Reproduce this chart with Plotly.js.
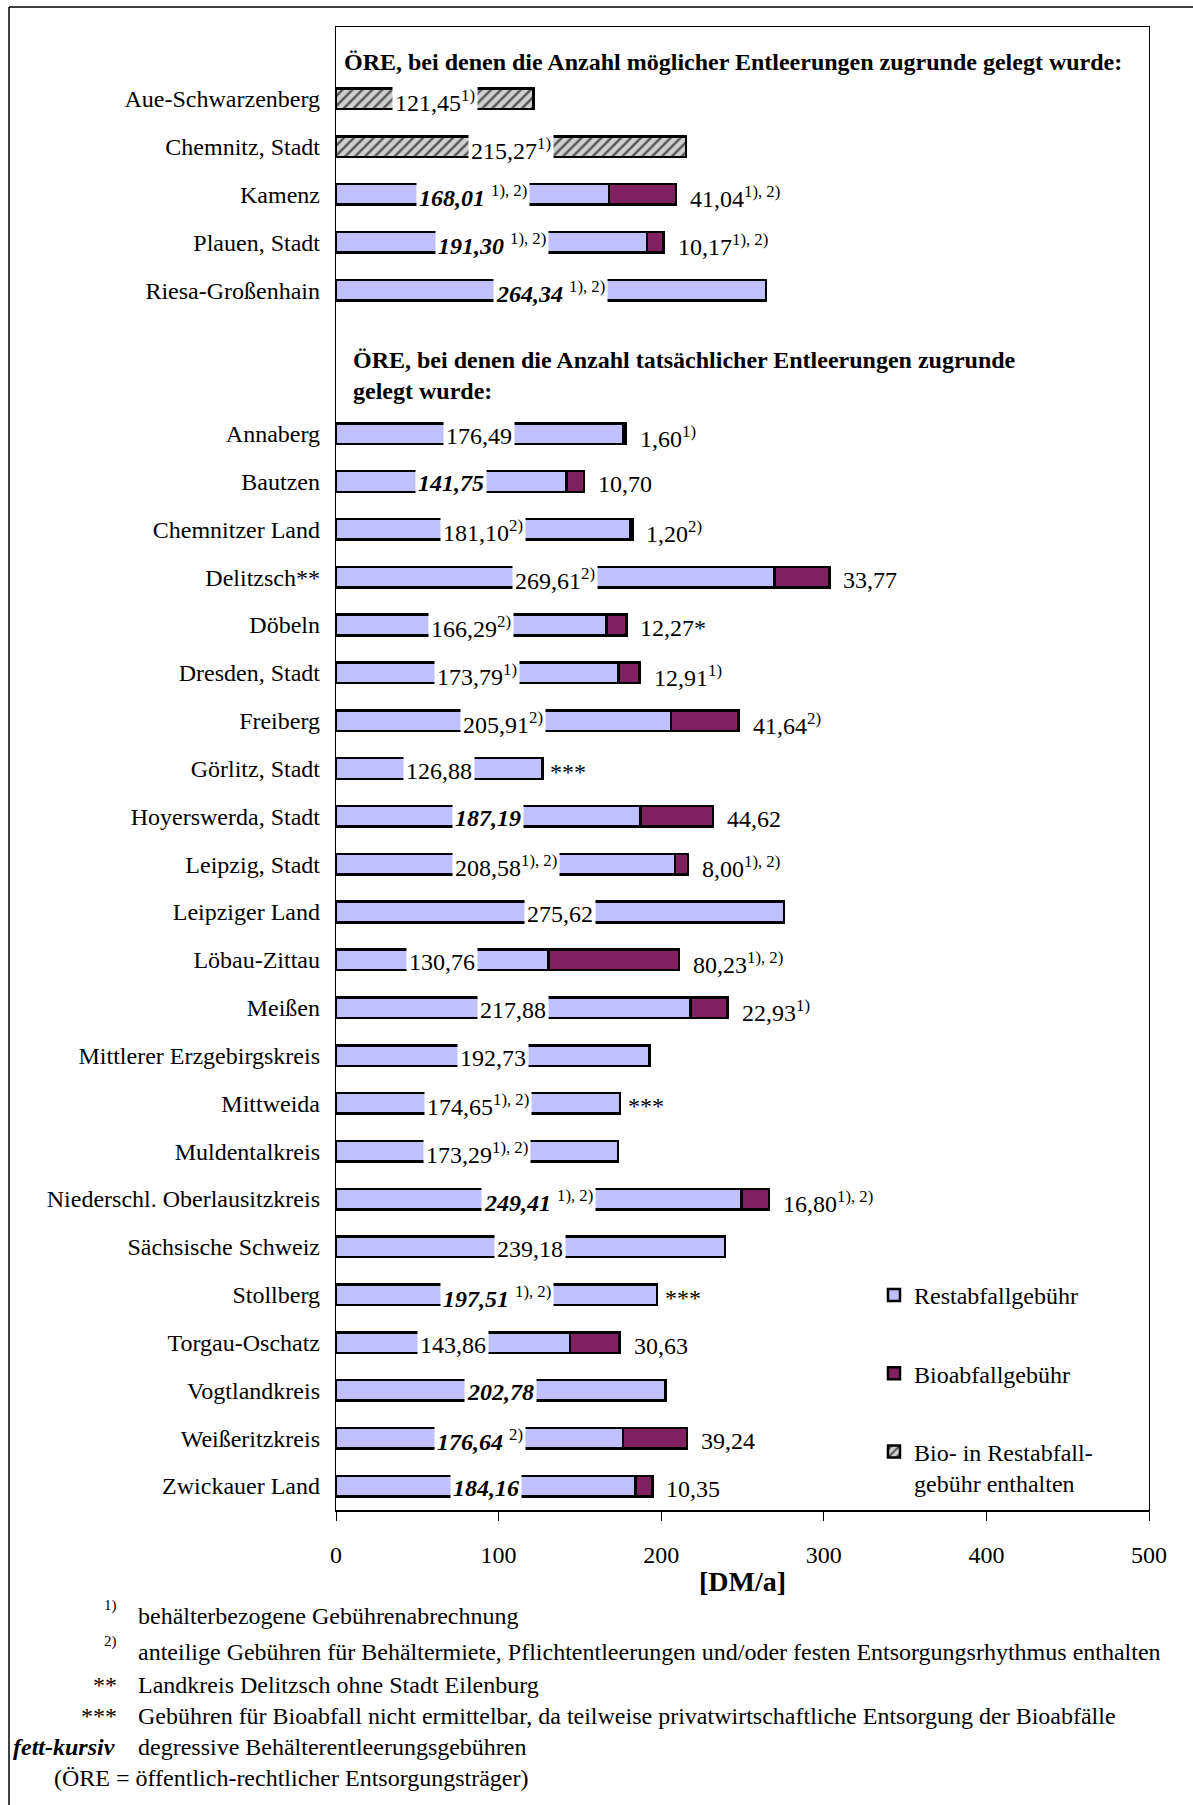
<!DOCTYPE html>
<html>
<head>
<meta charset="utf-8">
<script src="https://cdn.plot.ly/plotly-3.0.1.min.js"></script>
<style>
  html, body { margin: 0; padding: 0; background: #fff; }
  #chart { width: 1193px; height: 1805px; }
</style>
</head>
<body>
<div id="chart"></div>
<script>
// ÖRE where the number of possible emptyings was used
const groupPossible = ['Aue-Schwarzenberg', 'Chemnitz, Stadt', 'Kamenz', 'Plauen, Stadt', 'Riesa-Großenhain'];
// ÖRE where the number of actual emptyings was used
const groupActual = ['Annaberg', 'Bautzen', 'Chemnitzer Land', 'Delitzsch**', 'Döbeln', 'Dresden, Stadt',
  'Freiberg', 'Görlitz, Stadt', 'Hoyerswerda, Stadt', 'Leipzig, Stadt', 'Leipziger Land', 'Löbau-Zittau',
  'Meißen', 'Mittlerer Erzgebirgskreis', 'Mittweida', 'Muldentalkreis', 'Niederschl. Oberlausitzkreis',
  'Sächsische Schweiz', 'Stollberg', 'Torgau-Oschatz', 'Vogtlandkreis', 'Weißeritzkreis', 'Zwickauer Land'];

const categories = groupPossible.concat(groupActual);

// Restabfallgebühr [DM/a]
const restFee = [121.45, 215.27, 168.01, 191.30, 264.34,
  176.49, 141.75, 181.10, 269.61, 166.29, 173.79, 205.91, 126.88, 187.19, 208.58, 275.62, 130.76,
  217.88, 192.73, 174.65, 173.29, 249.41, 239.18, 197.51, 143.86, 202.78, 176.64, 184.16];
// Bioabfallgebühr [DM/a] (null = none / not determinable)
const bioFee = [null, null, 41.04, 10.17, null,
  1.60, 10.70, 1.20, 33.77, 12.27, 12.91, 41.64, null, 44.62, 8.00, null, 80.23,
  22.93, null, null, null, 16.80, null, null, 30.63, null, 39.24, 10.35];
// bio fee already contained in the residual waste fee
const bioIncluded = [true, true, false, false, false,
  false, false, false, false, false, false, false, false, false, false, false, false,
  false, false, false, false, false, false, false, false, false, false, false];
// degressive container emptying fees (shown bold italic)
const degressive = [false, false, true, true, true,
  false, true, false, false, false, false, false, false, true, false, false, false,
  false, false, false, false, true, false, true, false, true, true, true];
// footnote references
const restNote = ['1)', '1)', '1), 2)', '1), 2)', '1), 2)',
  '', '', '2)', '2)', '2)', '1)', '2)', '', '', '1), 2)', '', '',
  '', '', '1), 2)', '1), 2)', '1), 2)', '', '1), 2)', '', '', '2)', ''];
const bioNote = ['', '', '1), 2)', '1), 2)', '',
  '1)', '', '2)', '', '', '1)', '2)', '', '', '1), 2)', '', '1), 2)',
  '1)', '', '', '', '1), 2)', '', '', '', '', '', ''];
const bioMark = ['', '', '', '', '',
  '', '', '', '', '*', '', '', '***', '', '', '', '',
  '', '', '***', '', '', '', '***', '', '', '', ''];

const legendNames = ['Restabfallgebühr', 'Bioabfallgebühr', 'Bio- in Restabfall-<br>gebühr enthalten'];
const sectionTitles = [
  'ÖRE, bei denen die Anzahl möglicher Entleerungen zugrunde gelegt wurde:',
  'ÖRE, bei denen die Anzahl tatsächlicher Entleerungen zugrunde<br>gelegt wurde:'
];
const tickValues = [0, 100, 200, 300, 400, 500];
const axisTitle = '[DM/a]';
const footnotes = [
  ['1)', 'behälterbezogene Gebührenabrechnung'],
  ['2)', 'anteilige Gebühren für Behältermiete, Pflichtentleerungen und/oder festen Entsorgungsrhythmus enthalten'],
  ['**', 'Landkreis Delitzsch ohne Stadt Eilenburg'],
  ['***', 'Gebühren für Bioabfall nicht ermittelbar, da teilweise privatwirtschaftliche Entsorgung der Bioabfälle'],
  ['fett-kursiv', 'degressive Behälterentleerungsgebühren']
];
const oreNote = '(ÖRE = öffentlich-rechtlicher Entsorgungsträger)';

// ---- layout geometry ----
const W = 1193, H = 1805;
const M = { l: 336, r: 44, t: 27, b: 295 };
const plotW = W - M.l - M.r, plotH = H - M.t - M.b;
const px2x = px => (px - M.l) / plotW;
const py2y = py => (H - M.b - py) / plotH;

const SERIF = '"Liberation Serif", "Times New Roman", Times, serif';
const REST_COLOR = '#c0c0ff';
const BIO_COLOR = '#802060';

// blank slots hold the section headings
const gapTop = '\u200b', gapMid1 = '\u200b\u200b', gapMid2 = '\u200b\u200b\u200b';
const catOrder = [gapTop].concat(groupPossible, [gapMid1, gapMid2], groupActual);

const fmt = v => v.toFixed(2).replace('.', ',');

const restY = [], restX = [], hatchY = [], hatchX = [], bioY = [], bioX = [];
categories.forEach((c, i) => {
  if (bioIncluded[i]) { hatchY.push(c); hatchX.push(restFee[i]); }
  else { restY.push(c); restX.push(restFee[i]); }
  if (bioFee[i] !== null) { bioY.push(c); bioX.push(bioFee[i]); }
});

const outline = { color: '#000', width: 2.5 };
const traces = [
  { type: 'bar', orientation: 'h', name: legendNames[0], y: restY, x: restX,
    marker: { color: REST_COLOR, line: outline }, legendgroup: 'a' },
  { type: 'bar', orientation: 'h', name: legendNames[1], y: bioY, x: bioX, base: bioY.map(c => restFee[categories.indexOf(c)]),
    marker: { color: BIO_COLOR, line: outline }, legendgroup: 'b' },
  { type: 'bar', orientation: 'h', name: legendNames[2], y: hatchY, x: hatchX,
    marker: { color: '#c8c8c8', line: outline,
      pattern: { shape: '/', fgcolor: '#555555', bgcolor: '#d0d0d0', size: 7, solidity: 0.35 } },
    legendgroup: 'c' }
];

const annotations = [];
categories.forEach((c, i) => {
  let num = fmt(restFee[i]);
  if (degressive[i]) num = '<b><i>' + num + '</i></b>';
  let txt = num + (restNote[i] ? (degressive[i] ? ' ' : '') + '<sup>' + restNote[i] + '</sup>' : '');
  annotations.push({ x: restFee[i] / 2, y: c, xref: 'x', yref: 'y', text: txt, showarrow: false,
    xanchor: 'center', yanchor: 'middle', yshift: -2, bgcolor: '#ffffff', borderpad: 2,
    font: { family: SERIF, size: 24, color: '#000' } });
  let bioTxt = '';
  if (bioFee[i] !== null) bioTxt = fmt(bioFee[i]) + bioMark[i] + (bioNote[i] ? '<sup>' + bioNote[i] + '</sup>' : '');
  else if (bioMark[i]) bioTxt = bioMark[i];
  if (bioTxt) {
    const end = restFee[i] + (bioFee[i] || 0);
    annotations.push({ x: end, y: c, xref: 'x', yref: 'y', text: bioTxt, showarrow: false,
      xanchor: 'left', yanchor: 'middle', xshift: bioFee[i] === null ? 6 : 12, yshift: -3,
      font: { family: SERIF, size: 24, color: '#000' } });
  }
});

// section headings
annotations.push({ xref: 'paper', yref: 'y', x: px2x(342), y: gapTop, yshift: -11, text: '<b>' + sectionTitles[0] + '</b>',
  showarrow: false, xanchor: 'left', yanchor: 'middle', font: { family: SERIF, size: 24, color: '#000' } });
annotations.push({ xref: 'paper', yref: 'y', x: px2x(351), y: gapMid2, yshift: 10, text: '<b>' + sectionTitles[1] + '</b>',
  showarrow: false, xanchor: 'left', yanchor: 'middle', align: 'left', font: { family: SERIF, size: 24, color: '#000' } });

// axis title
annotations.push({ xref: 'paper', yref: 'paper', x: 0.5, y: py2y(1581), text: '<b>' + axisTitle + '</b>',
  showarrow: false, xanchor: 'center', yanchor: 'middle', font: { family: SERIF, size: 28, color: '#000' } });

// footnotes
const noteRows = [1616, 1652, 1685, 1716, 1747];
footnotes.forEach((fn, k) => {
  const isSup = fn[0].indexOf(')') >= 0;
  const isBI = fn[0] === 'fett-kursiv';
  annotations.push({ xref: 'paper', yref: 'paper', x: px2x(isBI ? 117 : 119), y: py2y(noteRows[k] + (isSup ? -11 : 0)),
    text: isBI ? '<b><i>' + fn[0] + '</i></b>' : fn[0], showarrow: false, xanchor: 'right', yanchor: 'middle',
    font: { family: SERIF, size: isSup ? 15 : 24, color: '#000' } });
  annotations.push({ xref: 'paper', yref: 'paper', x: px2x(136), y: py2y(noteRows[k]), text: fn[1],
    showarrow: false, xanchor: 'left', yanchor: 'middle', font: { family: SERIF, size: 24, color: '#000' } });
});
annotations.push({ xref: 'paper', yref: 'paper', x: px2x(52), y: py2y(1778), text: oreNote,
  showarrow: false, xanchor: 'left', yanchor: 'middle', font: { family: SERIF, size: 24, color: '#000' } });

// outer frame (top and left edges)
const shapes = [
  { type: 'line', xref: 'paper', yref: 'paper', x0: px2x(9), x1: px2x(W), y0: py2y(7), y1: py2y(7), line: { color: '#000', width: 1.5 } },
  { type: 'line', xref: 'paper', yref: 'paper', x0: px2x(9), x1: px2x(9), y0: py2y(7), y1: py2y(H), line: { color: '#000', width: 1.5 } }
];

const layout = {
  width: W, height: H,
  margin: M,
  paper_bgcolor: '#fff', plot_bgcolor: '#fff',
  barmode: 'stack', bargap: 0.57,
  showlegend: true,
  legend: { x: px2x(874), y: py2y(1273), xanchor: 'left', yanchor: 'top', traceorder: 'grouped',
    tracegroupgap: 44, valign: 'top', bgcolor: 'rgba(0,0,0,0)',
    font: { family: SERIF, size: 24, color: '#000' } },
  xaxis: { range: [0, 500], tickvals: tickValues, ticks: 'outside', ticklen: 9, tickcolor: '#000', tickwidth: 1,
    showgrid: false, zeroline: false, showline: true, linecolor: '#000', linewidth: 1.5, mirror: true,
    ticklabelstandoff: 14, automargin: false,
    tickfont: { family: SERIF, size: 24, color: '#000' } },
  yaxis: { type: 'category', categoryorder: 'array', categoryarray: catOrder,
    range: [catOrder.length - 0.5, -0.5], ticks: '', showgrid: false, zeroline: false,
    showline: true, linecolor: '#000', linewidth: 1.2, mirror: true, ticklabelstandoff: 10, automargin: false,
    tickfont: { family: SERIF, size: 24, color: '#000' } },
  annotations: annotations,
  shapes: shapes,
  hovermode: false
};

Plotly.newPlot('chart', traces, layout, { displayModeBar: false, staticPlot: true });
</script>
</body>
</html>
